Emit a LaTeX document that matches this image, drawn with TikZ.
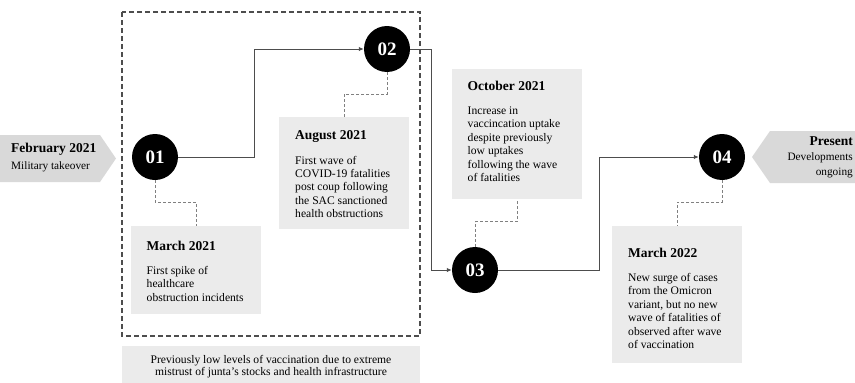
\documentclass[tikz,border=0pt]{standalone}
\usepackage{fontspec}
\setmainfont{Liberation Serif}
\usetikzlibrary{arrows.meta}
\definecolor{boxgray}{HTML}{EBEBEB}
\definecolor{tabgray}{HTML}{D9D9D9}
\definecolor{linegray}{HTML}{4D4D4D}
\begin{document}
\begin{tikzpicture}[x=1pt,y=-1pt,
    stage/.style={circle,fill=black,minimum size=46pt,inner sep=0pt,text=white,
      font=\fontsize{19}{19}\selectfont\bfseries},
    flow/.style={draw=linegray,line width=1pt,-{Latex[length=5pt,width=4.5pt]}},
    lead/.style={draw=gray,line width=0.7pt,densely dashed},
    infobox/.style={fill=boxgray,anchor=north west,minimum width=130pt,inner sep=0pt},
    infotext/.style={anchor=north west,align=left,inner sep=0pt,
      font=\fontsize{11.6}{13.4}\selectfont}]
  \useasboundingbox (0,0) rectangle (855,383);
  \draw[linegray,line width=1.1pt,dash pattern=on 5pt off 3pt] (122,12) rectangle (420,336);
  \fill[boxgray] (122,346) rectangle (420,383);
  \node[align=center,inner sep=0pt,font=\fontsize{11.6}{12}\selectfont] (note) at (271,367)
    {Previously low levels of vaccination due to extreme\\mistrust of junta's stocks and health infrastructure};
  \fill[tabgray] (0,135) -- (100,135) -- (116,158.5) -- (100,182) -- (0,182) -- cycle;
  \node[anchor=west,align=left,inner sep=0pt,font=\fontsize{11.3}{15}\selectfont] (feb21) at (11,158)
    {{\fontsize{13.5}{13}\selectfont\bfseries February 2021}\\[2pt]Military takeover};
  \fill[tabgray] (855,131) -- (770,131) -- (752,157) -- (770,183) -- (855,183) -- cycle;
  \node[anchor=east,align=right,inner sep=0pt,font=\fontsize{11.3}{15}\selectfont] (present) at (853,157)
    {{\fontsize{13.5}{13}\selectfont\bfseries Present}\\Developments\\ongoing};
  \node[infobox,minimum height=88pt] (mar21) at (131,226) {};
  \node[infobox,minimum height=112pt] (aug21) at (279,117) {};
  \node[infobox,minimum height=130pt] (oct21) at (452,69) {};
  \node[infobox,minimum height=137pt] (mar22) at (612,226) {};
  \node[infotext] (mar21t) at (146.5,240.5)
    {{\fontsize{13.5}{13}\selectfont\bfseries March 2021}\\[11pt]First spike of\\healthcare\\obstruction incidents};
  \node[infotext] (aug21t) at (295,130.5)
    {{\fontsize{13.5}{13}\selectfont\bfseries August 2021}\\[11pt]First wave of\\COVID-19 fatalities\\post coup following\\the SAC sanctioned\\health obstructions};
  \node[infotext] (oct21t) at (467.5,80.5)
    {{\fontsize{13.5}{13}\selectfont\bfseries October 2021}\\[11pt]Increase in\\vaccincation uptake\\despite previously\\low uptakes\\following the wave\\of fatalities};
  \node[infotext] (mar22t) at (628,247.5)
    {{\fontsize{13.5}{13}\selectfont\bfseries March 2022}\\[11pt]New surge of cases\\from the Omicron\\variant, but no new\\wave of fatalities of\\observed after wave\\of vaccination};
  \node[stage] (s01) at (155,157) {01};
  \node[stage] (s02) at (387,49) {02};
  \node[stage] (s03) at (475,270) {03};
  \node[stage] (s04) at (722,157) {04};
  \draw[flow] (s01.east) -- (254,157) |- (s02.west);
  \draw[flow] (s02.east) -- (431,49) |- (s03.west);
  \draw[flow] (s03.east) -- (599,270) |- (s04.west);
  \draw[lead] (s01.south) -- ++(0,22) -| (mar21.north);
  \draw[lead] (s02.south) -- ++(0,22) -| (aug21.north);
  \draw[lead] (s03.north) -- ++(0,-25) -| (oct21.south);
  \draw[lead] (s04.south) -- ++(0,22) -| (mar22.north);
\end{tikzpicture}
\end{document}
